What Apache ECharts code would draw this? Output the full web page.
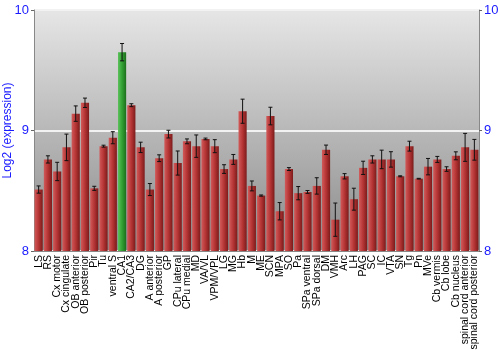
<!DOCTYPE html>
<html>
<head>
<meta charset="utf-8">
<script src="https://cdn.jsdelivr.net/npm/echarts@6/dist/echarts.min.js"></script>
<style>
  html, body { margin: 0; padding: 0; background: #fff; }
  #chart { width: 500px; height: 350px; }
</style>
</head>
<body>
<div id="chart"></div>
<script>
// brain regions
var regions = ['LS', 'RS', 'Cx motor', 'Cx cingulate', 'OB anterior', 'OB posterior', 'Pir', 'Tu',
    'ventral S', 'CA1', 'CA2/CA3', 'DG', 'A anterior', 'A posterior', 'GP', 'CPu lateral',
    'CPu medial', 'MD', 'VA/VL', 'VPM/VPL', 'LG', 'MG', 'Hb', 'M', 'ME', 'SCN', 'MPA', 'SO',
    'Pa', 'SPa ventral', 'SPa dorsal', 'DM', 'VMH', 'Arc', 'LH', 'PAG', 'SC', 'IC', 'VTA', 'SN',
    'Tg', 'Pn', 'MVe', 'Cb vermis', 'Cb lobe', 'Cb nucleus', 'spinal cord anterior',
    'spinal cord posterior'];

// log2 expression
var expression = [8.51, 8.76, 8.66, 8.86, 9.14, 9.23, 8.52, 8.87,
    8.94, 9.65, 9.21, 8.86, 8.51, 8.77, 8.97, 8.73,
    8.91, 8.87, 8.93, 8.87, 8.68, 8.76, 9.16, 8.54, 8.46, 9.12, 8.33, 8.68,
    8.48, 8.49, 8.54, 8.84, 8.26, 8.62, 8.43, 8.69, 8.76, 8.76, 8.76, 8.62,
    8.87, 8.60, 8.70, 8.76, 8.68, 8.79, 8.86,
    8.84];

// standard error
var stdErr = [0.03, 0.03, 0.076, 0.11, 0.064, 0.039, 0.017, 0.008,
    0.05, 0.072, 0.012, 0.043, 0.05, 0.028, 0.032, 0.1,
    0.02, 0.093, 0.007, 0.054, 0.036, 0.041, 0.1, 0.041, 0.005, 0.073, 0.072, 0.012,
    0.055, 0.012, 0.068, 0.039, 0.138, 0.022, 0.091, 0.055, 0.03, 0.077, 0.064, 0.004,
    0.041, 0.003, 0.068, 0.025, 0.019, 0.033, 0.116,
    0.086];

var highlighted = 'CA1';

var yTicks = [8, 9, 10];

var chart = echarts.init(document.getElementById('chart'));

var redFill = new echarts.graphic.LinearGradient(0, 0, 1, 0, [
    {offset: 0, color: '#d25a5a'},
    {offset: 0.5, color: '#b53434'},
    {offset: 1, color: '#7c1b1b'}
]);
var greenFill = new echarts.graphic.LinearGradient(0, 0, 1, 0, [
    {offset: 0, color: '#5cc25c'},
    {offset: 0.5, color: '#32a032'},
    {offset: 1, color: '#1c6e1c'}
]);

var barData = expression.map(function (v, i) {
    return {
        value: v,
        itemStyle: {color: regions[i] === highlighted ? greenFill : redFill}
    };
});

var errData = expression.map(function (v, i) {
    return [i, v - stdErr[i], v + stdErr[i]];
});

var yAxisBase = {
    type: 'value',
    min: yTicks[0],
    max: yTicks[yTicks.length - 1],
    interval: 1,
    axisLine: {show: true, lineStyle: {color: '#888', width: 1}},
    axisTick: {show: true, length: 3, lineStyle: {color: '#666'}},
    axisLabel: {color: '#1a1aff', fontSize: 13, fontFamily: 'Liberation Sans', margin: 5}
};

var option = {
    animation: false,
    grid: {
        left: 34, right: 21, top: 10, bottom: 99,
        containLabel: false,
        outerBoundsMode: 'none',
        show: true,
        borderWidth: 0,
        backgroundColor: new echarts.graphic.LinearGradient(0, 0, 0, 1, [
            {offset: 0, color: '#e6e6e6'},
            {offset: 1, color: '#8a8a8a'}
        ])
    },
    xAxis: {
        type: 'category',
        data: regions,
        axisLine: {show: true, lineStyle: {color: '#888'}},
        axisTick: {show: false},
        axisLabel: {
            interval: 0, rotate: 90, color: '#000', fontSize: 10.5,
            fontFamily: 'Liberation Sans', margin: 4
        }
    },
    yAxis: [
        Object.assign({}, yAxisBase, {
            position: 'left',
            name: 'Log2 (expression)',
            nameLocation: 'middle',
            nameGap: 20,
            nameMoveOverlap: false,
            nameTextStyle: {color: '#1a1aff', fontSize: 12, fontFamily: 'Liberation Sans'},
            splitLine: {show: true, lineStyle: {color: '#f2f2f2', width: 2}}
        }),
        Object.assign({}, yAxisBase, {
            position: 'right',
            splitLine: {show: false}
        })
    ],
    series: [{
        type: 'bar',
        data: barData,
        barCategoryGap: '12%'
    }, {
        type: 'custom',
        data: errData,
        z: 10,
        renderItem: function (params, api) {
            var x = api.value(0);
            var lo = api.coord([x, api.value(1)]);
            var hi = api.coord([x, api.value(2)]);
            var cap = 2;
            var style = {stroke: '#111', lineWidth: 1};
            return {
                type: 'group',
                children: [
                    {type: 'line', shape: {x1: lo[0], y1: lo[1], x2: hi[0], y2: hi[1]}, style: style},
                    {type: 'line', shape: {x1: lo[0] - cap, y1: lo[1], x2: lo[0] + cap, y2: lo[1]}, style: style},
                    {type: 'line', shape: {x1: hi[0] - cap, y1: hi[1], x2: hi[0] + cap, y2: hi[1]}, style: style}
                ]
            };
        }
    }]
};

chart.setOption(option);
</script>
</body>
</html>
